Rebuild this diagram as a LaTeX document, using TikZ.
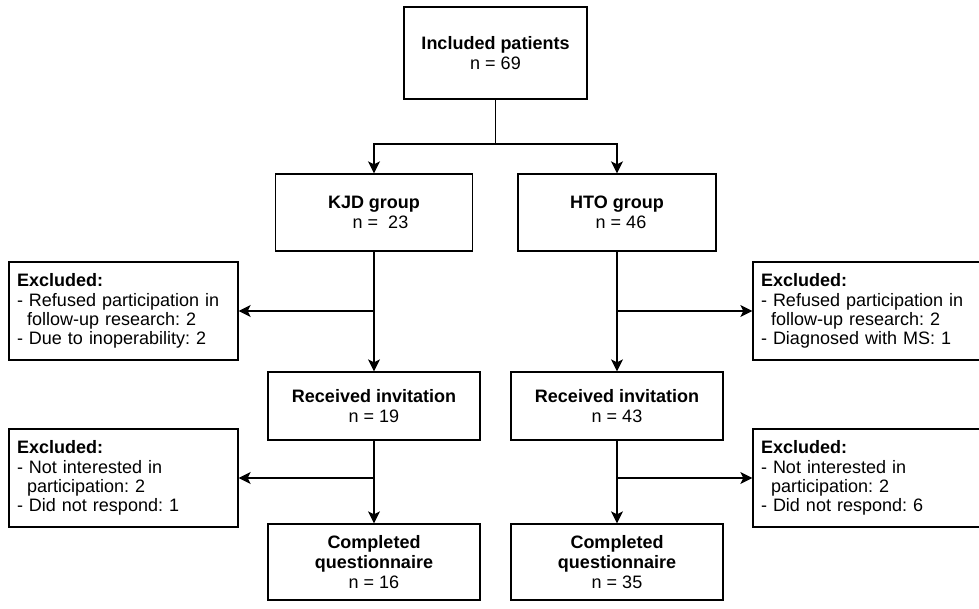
\documentclass[tikz,border=0pt]{standalone}
\usepackage{fontspec}
\setmainfont{Liberation Sans}
\usetikzlibrary{arrows.meta}
\frenchspacing
\begin{document}
\begin{tikzpicture}[x=1pt,y=-1pt,
  box/.style={draw, line width=1.3pt, align=center, inner sep=0pt,
    font=\fontsize{18}{20}\selectfont},
  exbox/.style={draw, line width=1.3pt, align=left, inner xsep=8pt, inner ysep=0pt,
    minimum height=98pt, text width=#1, font=\fontsize{18}{19.3}\selectfont},
  link/.style={line width=1.3pt},
  arr/.style={line width=1.3pt, -{Stealth[length=12pt,width=12pt,inset=3pt]}}]
\useasboundingbox (0,0) rectangle (979,609);

% main flow
\node[box, minimum width=183pt, minimum height=92pt] (top) at (495.5,53)
  {\textbf{Included patients}\\n = 69};
\node[box, minimum width=197pt, minimum height=77pt] (kjd) at (374,212.5)
  {\textbf{KJD group}\\\hspace*{13pt}n =\ \ 23};
\node[box, minimum width=198pt, minimum height=77pt] (hto) at (617,212.5)
  {\textbf{HTO group}\\\hspace*{8pt}n = 46};
\node[box, minimum width=212pt, minimum height=68pt] (recL) at (374,406)
  {\textbf{Received invitation}\\n = 19};
\node[box, minimum width=212pt, minimum height=68pt] (recR) at (617,406)
  {\textbf{Received invitation}\\n = 43};
\node[box, minimum width=212pt, minimum height=76pt] (compL) at (374,562)
  {\textbf{Completed}\\\textbf{questionnaire}\\n = 16};
\node[box, minimum width=212pt, minimum height=76pt] (compR) at (617,562)
  {\textbf{Completed}\\\textbf{questionnaire}\\n = 35};

% exclusion boxes
\node[exbox=213pt] (exL1) at (123.5,311)
  {\textbf{Excluded:}\\- Refused participation in\\\hspace*{10pt}follow-up research: 2\\- Due to inoperability: 2};
\node[exbox=212pt] (exR1) at (867,311)
  {\textbf{Excluded:}\\- Refused participation in\\\hspace*{10pt}follow-up research: 2\\- Diagnosed with MS: 1};
\node[exbox=213pt] (exL2) at (123.5,478)
  {\textbf{Excluded:}\\- Not interested in\\\hspace*{10pt}participation: 2\\- Did not respond: 1};
\node[exbox=212pt] (exR2) at (867,478)
  {\textbf{Excluded:}\\- Not interested in\\\hspace*{10pt}participation: 2\\- Did not respond: 6};

% connectors
\coordinate (split) at (495.5,144);
\draw[link] (top.south) -- (split);
\draw[arr] (split) -| (kjd.north);
\draw[arr] (split) -| (hto.north);

\draw[arr] (kjd.south) -- (recL.north);
\draw[arr] (kjd.south |- exL1.east) -- (exL1.east);
\draw[arr] (hto.south) -- (recR.north);
\draw[arr] (hto.south |- exR1.west) -- (exR1.west);

\draw[arr] (recL.south) -- (compL.north);
\draw[arr] (recL.south |- exL2.east) -- (exL2.east);
\draw[arr] (recR.south) -- (compR.north);
\draw[arr] (recR.south |- exR2.west) -- (exR2.west);
\end{tikzpicture}
\end{document}
